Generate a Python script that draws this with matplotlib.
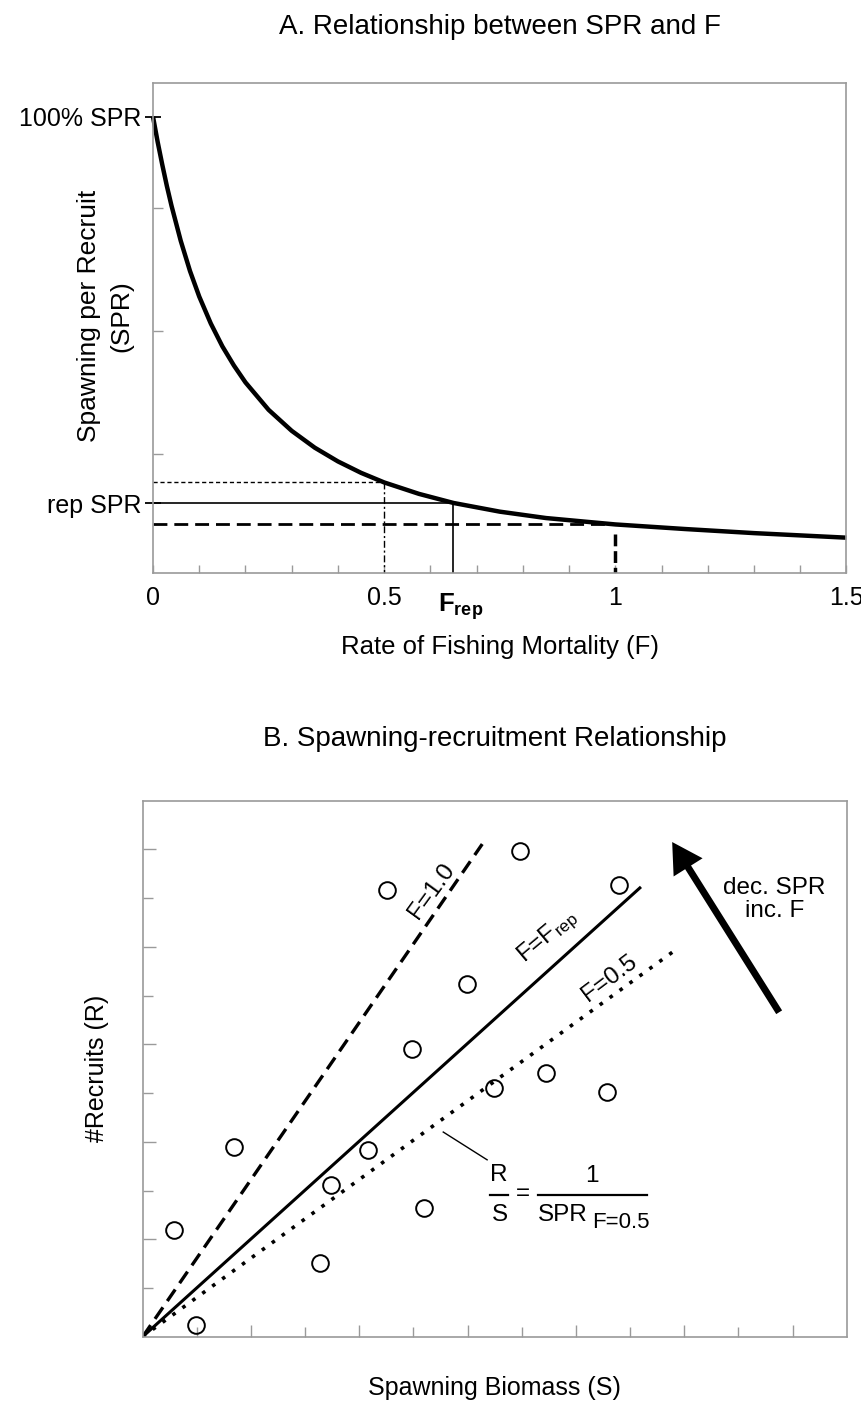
import matplotlib
matplotlib.use('Agg')
import matplotlib.pyplot as plt
from matplotlib.patches import FancyArrowPatch

plt.rcParams['font.family'] = ['Liberation Sans', 'DejaVu Sans']
plt.rcParams['mathtext.fontset'] = 'custom'
plt.rcParams['mathtext.rm'] = 'Liberation Sans'
plt.rcParams['mathtext.it'] = 'Liberation Sans'
plt.rcParams['mathtext.bf'] = 'Liberation Sans:bold'

GRAY = '#9a9a9a'

# --- panel A: SPR vs F
F_curve = [0, 0.01, 0.02, 0.03, 0.04, 0.06, 0.08, 0.10, 0.125, 0.15, 0.175, 0.20, 0.25,
           0.30, 0.35, 0.40, 0.45, 0.50, 0.575, 0.65, 0.75, 0.85, 1.0, 1.15, 1.3, 1.5]
SPR_curve = [1.0, 0.945, 0.895, 0.848, 0.805, 0.728, 0.662, 0.606, 0.547, 0.497, 0.455,
             0.418, 0.358, 0.312, 0.275, 0.245, 0.220, 0.199, 0.174, 0.154, 0.135, 0.121,
             0.107, 0.097, 0.088, 0.078]
F_ticks = [0, 0.5, 1, 1.5]
F_tick_labels = ['0', '0.5', '1', '1.5']
F_minor = [i / 10 for i in range(16)]
SPR_ticks = [0.153, 1.0]
SPR_tick_labels = ['rep SPR', '100% SPR']
SPR_minor = [0.261, 0.531, 0.799]
F_ref = [0.5, 0.648, 1.0]        # F=0.5, F_rep, F=1.0
SPR_ref = [0.199, 0.153, 0.107]

# --- panel B: spawning biomass vs recruits
S_obs = [0.58, 0.99, 1.69, 3.28, 3.48, 4.16, 4.51, 4.97, 5.19, 5.99, 6.48, 6.97, 7.45, 8.58, 8.79]
R_obs = [2.19, 0.25, 3.90, 1.51, 3.12, 3.83, 9.17, 5.90, 2.64, 7.24, 5.10, 9.96, 5.41, 5.02, 9.27]
line_names = ['F=1.0', r'F=F$_{\mathregular{rep}}$', 'F=0.5']
line_S_end = [6.27, 9.18, 9.78]
line_R_end = [10.11, 9.21, 7.89]
line_label_S = [5.33, 7.49, 8.62]
line_label_R = [9.15, 8.21, 7.36]
line_label_rot = [54, 40, 37]

fig = plt.figure(figsize=(8.62, 14.05), dpi=100)

# ================= A =================
axA = fig.add_axes([153 / 862, 1 - 573.3 / 1405, 693.5 / 862, 490 / 1405])
axA.plot(F_curve, SPR_curve, color='k', lw=3.2, solid_capstyle='butt',
         solid_joinstyle='round', clip_on=False)

axA.plot([0, F_ref[0]], [SPR_ref[0]] * 2, color='k', lw=1, ls=(0, (3, 2)))
axA.plot([F_ref[0]] * 2, [SPR_ref[0], 0], color='k', lw=1, ls=(0, (5, 2, 1.5, 2)))
axA.plot([0, F_ref[1]], [SPR_ref[1]] * 2, color='k', lw=1.2)
axA.plot([F_ref[1]] * 2, [SPR_ref[1], 0], color='k', lw=1.2)
axA.plot([0, F_ref[2]], [SPR_ref[2]] * 2, color='k', lw=2, ls=(0, (5, 2.5)))
axA.plot([F_ref[2]] * 2, [SPR_ref[2] * 0.8, 0], color='k', lw=2.5, ls=(0, (3.4, 1.4)))

axA.set_xlim(0, 1.5)
axA.set_ylim(0, 1.073)
axA.set_xticks(F_ticks, F_tick_labels)
axA.set_xticks(F_minor, minor=True)
axA.tick_params(axis='x', which='both', direction='in', length=6, width=1, color=GRAY,
                pad=9, labelsize=18)
axA.set_yticks(SPR_ticks, SPR_tick_labels)
axA.set_yticks(SPR_minor, minor=True)
axA.tick_params(axis='y', which='major', direction='inout', length=11, width=1.3, color='k',
                pad=3, labelsize=18)
axA.tick_params(axis='y', which='minor', direction='in', length=7, width=1, color=GRAY)
for s in axA.spines.values():
    s.set_color(GRAY)
    s.set_linewidth(1.2)

axA.annotate(r'$\mathbf{F_{rep}}$', xy=(F_ref[1], 0), xycoords=('data', 'axes fraction'),
             xytext=(6, -13), textcoords='offset points', ha='center', va='top', fontsize=18.5)

axA.text(0.5, 1.115, 'A. Relationship between SPR and F', transform=axA.transAxes,
         ha='center', va='center', fontsize=20)
axA.text(0.5, -0.15, 'Rate of Fishing Mortality (F)', transform=axA.transAxes,
         ha='center', va='center', fontsize=18.5)
axA.text(-0.069, 0.525, 'Spawning per Recruit\n(SPR)', transform=axA.transAxes,
         rotation=90, ha='center', va='center', fontsize=19, linespacing=1.45)

# ================= B =================
axB = fig.add_axes([142.7 / 862, 1 - 1336.7 / 1405, 704 / 862, 536 / 1405])
styles = [dict(ls=(0, (4.2, 2.3)), lw=2.4),
          dict(ls='-', lw=2.2),
          dict(ls=(0, (1, 2.4)), lw=2.6)]
for s_end, r_end, st in zip(line_S_end, line_R_end, styles):
    axB.plot([0, s_end], [0, r_end], color='k', dash_capstyle='butt', **st)
for name, x, y, rot in zip(line_names, line_label_S, line_label_R, line_label_rot):
    axB.text(x, y, name, rotation=rot, rotation_mode='anchor', ha='center', va='center',
             fontsize=17.5)

axB.plot(S_obs, R_obs, 'o', mfc='none', mec='k', ms=12, mew=1.4)

axB.set_xlim(0, 13)
axB.set_ylim(0, 11)
axB.set_xticks([2, 4, 6, 8, 10, 12])
axB.set_xticks([1, 3, 5, 7, 9, 11], minor=True)
axB.set_yticks([2, 4, 6, 8, 10])
axB.set_yticks([1, 3, 5, 7, 9], minor=True)
axB.tick_params(which='major', direction='in', length=9, width=1, color=GRAY,
                labelbottom=False, labelleft=False)
axB.tick_params(which='minor', direction='in', length=7, width=1, color=GRAY)
for s in axB.spines.values():
    s.set_color(GRAY)
    s.set_linewidth(1.2)

# R/S = 1/SPR_F=0.5 annotation
axB.plot([5.55, 6.36], [4.20, 3.63], color='k', lw=1)
axB.text(6.57, 3.32, 'R', ha='center', va='center', fontsize=17.5)
axB.plot([6.42, 6.75], [2.91, 2.91], color='k', lw=1.6)
axB.text(6.59, 2.50, 'S', ha='center', va='center', fontsize=17.5)
axB.text(7.02, 2.92, '=', ha='center', va='center', fontsize=17.5)
axB.text(8.29, 3.30, '1', ha='center', va='center', fontsize=17.5)
axB.plot([7.30, 9.32], [2.91, 2.91], color='k', lw=1.6)
axB.text(7.76, 2.50, 'SPR', ha='center', va='center', fontsize=17.5)
axB.text(8.83, 2.34, 'F=0.5', ha='center', va='center', fontsize=16)

arrow = FancyArrowPatch((11.78, 6.61), (9.75, 10.2),
                        arrowstyle='-|>,head_length=14,head_width=8', mutation_scale=1,
                        lw=5, color='k', joinstyle='miter', capstyle='butt')
axB.add_patch(arrow)
axB.text(11.67, 8.97, 'dec. SPR\ninc. F', ha='center', va='center', fontsize=17.5,
         linespacing=1.05)

axB.text(0.5, 1.115, 'B. Spawning-recruitment Relationship', transform=axB.transAxes,
         ha='center', va='center', fontsize=20)
axB.text(0.5, -0.096, 'Spawning Biomass (S)', transform=axB.transAxes,
         ha='center', va='center', fontsize=18)
axB.text(-0.065, 0.5, '#Recruits (R)', transform=axB.transAxes,
         rotation=90, ha='center', va='center', fontsize=18)

fig.savefig('out.png', dpi=100)
